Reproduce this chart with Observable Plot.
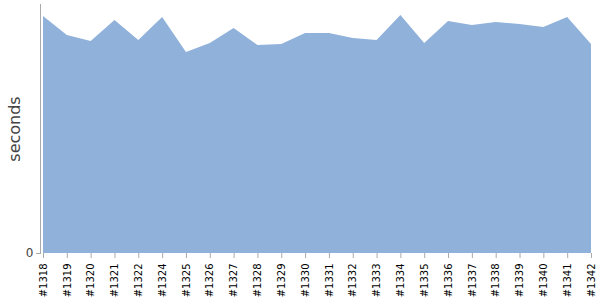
<!DOCTYPE html>
<html>
<head>
<meta charset="utf-8">
<script src="https://cdn.jsdelivr.net/npm/d3@7"></script>
<script src="https://cdn.jsdelivr.net/npm/@observablehq/plot@0.6"></script>
<style>
  html, body { margin: 0; padding: 0; background: #fff; }
  svg { display: block; }
  svg, svg text { font-family: "DejaVu Sans", Verdana, sans-serif !important; }
</style>
</head>
<body>
<div id="chart"></div>
<script>
const builds = ["#1318","#1319","#1320","#1321","#1322","#1324","#1325","#1326","#1327","#1328","#1329","#1330","#1331","#1332","#1333","#1334","#1335","#1336","#1337","#1338","#1339","#1340","#1341","#1342"];
const seconds = [237, 218, 212, 233, 213, 236, 201, 210, 225, 208, 209, 220, 220, 215, 213, 238, 210, 232, 228, 231, 229, 226, 236, 209];
const yTicks = [0];
const yLabel = "seconds";

const data = builds.map((b, i) => ({build: b, value: seconds[i]}));

const chart = Plot.plot({
  width: 600,
  height: 300,
  marginLeft: 40,
  marginRight: 9,
  marginTop: 4,
  marginBottom: 47,
  style: {fontFamily: "DejaVu Sans", background: "#fff"},
  x: {type: "point", domain: builds, padding: 0, round: false, insetLeft: 3, insetRight: 0},
  y: {domain: [0, 249]},
  marks: [
    Plot.areaY(data, {x: "build", y: "value", fill: "#8fb1da", curve: "linear"}),
    Plot.frame({anchor: "left", stroke: "#aaa"}),
    Plot.axisY(yTicks, {tickSize: 4, stroke: "#aaa", fill: "#444", fontSize: 12, tickPadding: 3, label: null}),
    Plot.axisY({ticks: [], label: yLabel, labelAnchor: "center", labelArrow: "none", labelOffset: 32, fontSize: 16, fill: "#444"}),
    Plot.axisX({tickSize: 5, tickRotate: -90, stroke: "#aaa", fill: "#000", fontSize: 10, tickPadding: 5, label: null})
  ]
});
document.getElementById("chart").appendChild(chart);
</script>
</body>
</html>
